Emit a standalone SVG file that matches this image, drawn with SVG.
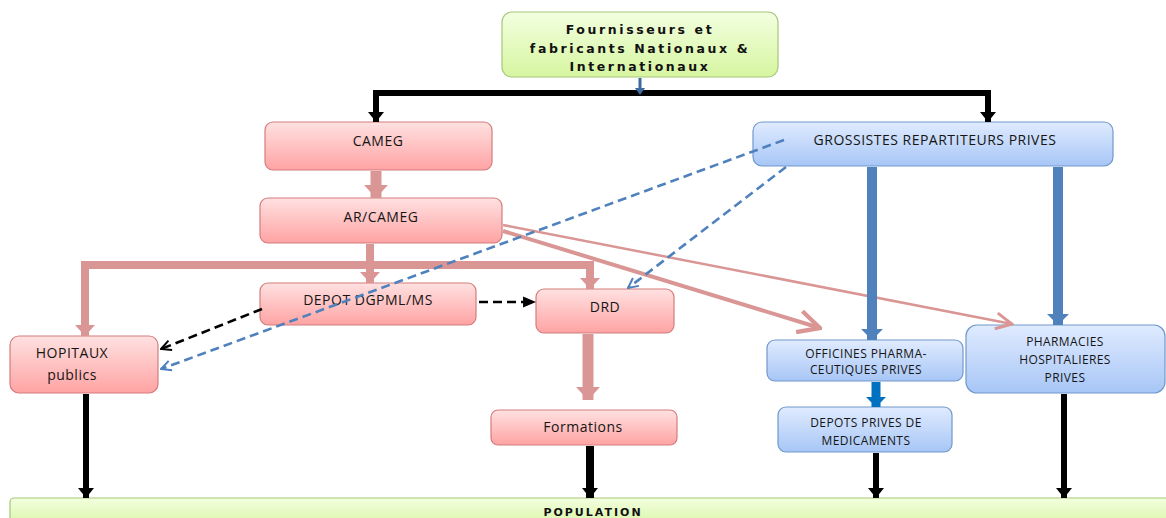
<svg xmlns="http://www.w3.org/2000/svg" width="1166" height="518" viewBox="0 0 1166 518">
<defs>
<linearGradient id="gPink" x1="0" y1="0" x2="0" y2="1"><stop offset="0" stop-color="#FFE1E1"/><stop offset="1" stop-color="#FFA3A3"/></linearGradient>
<linearGradient id="gBlue" x1="0" y1="0" x2="0" y2="1"><stop offset="0" stop-color="#E0EBFF"/><stop offset="1" stop-color="#A7C6F6"/></linearGradient>
<linearGradient id="gGreen" x1="0" y1="0" x2="0" y2="1"><stop offset="0" stop-color="#F3FFE0"/><stop offset="1" stop-color="#D6F5A0"/></linearGradient>
<marker id="aBlack" viewBox="0 0 10 16" refX="10" refY="8" markerWidth="10" markerHeight="16" orient="auto" markerUnits="userSpaceOnUse"><path d="M0,0 L10,8 L0,16 Z" fill="#000"/></marker>
<marker id="aPinkL" viewBox="0 0 13 24" refX="13" refY="12" markerWidth="13" markerHeight="24" orient="auto" markerUnits="userSpaceOnUse"><path d="M0,0 L13,12 L0,24 Z" fill="#D99694"/></marker>
<marker id="aPinkM" viewBox="0 0 11 20" refX="11" refY="10" markerWidth="11" markerHeight="20" orient="auto" markerUnits="userSpaceOnUse"><path d="M0,0 L11,10 L0,20 Z" fill="#D99694"/></marker>
<marker id="aBlueT" viewBox="0 0 11 22" refX="11" refY="11" markerWidth="11" markerHeight="22" orient="auto" markerUnits="userSpaceOnUse"><path d="M0,0 L11,11 L0,22 Z" fill="#4F81BD"/></marker>
<marker id="aBlue2" viewBox="0 0 10 20" refX="10" refY="10" markerWidth="10" markerHeight="20" orient="auto" markerUnits="userSpaceOnUse"><path d="M0,0 L10,10 L0,20 Z" fill="#0070C0"/></marker>
<marker id="openBlue" viewBox="0 0 12 12" refX="11" refY="6" markerWidth="12" markerHeight="12" orient="auto" markerUnits="userSpaceOnUse"><path d="M1,1 L11,6 L1,11" fill="none" stroke="#4F81BD" stroke-width="2"/></marker>
<marker id="openBlack" viewBox="0 0 12 12" refX="11" refY="6" markerWidth="12" markerHeight="12" orient="auto" markerUnits="userSpaceOnUse"><path d="M1,1 L11,6 L1,11" fill="none" stroke="#000" stroke-width="2"/></marker>
<marker id="fillBlack" viewBox="0 0 12 12" refX="11" refY="6" markerWidth="13" markerHeight="13" orient="auto" markerUnits="userSpaceOnUse"><path d="M0,1 L12,6 L0,11 Z" fill="#000"/></marker>
<marker id="openPinkBig" viewBox="0 0 24 24" refX="22" refY="12" markerWidth="26" markerHeight="26" orient="auto" markerUnits="userSpaceOnUse"><path d="M2,2 L22,12 L2,22" fill="none" stroke="#D99694" stroke-width="4"/></marker>
<marker id="openPinkSm" viewBox="0 0 20 20" refX="18" refY="10" markerWidth="20" markerHeight="20" orient="auto" markerUnits="userSpaceOnUse"><path d="M2,2 L18,10 L2,18" fill="none" stroke="#D99694" stroke-width="3"/></marker>
<style>
.pink{fill:url(#gPink);stroke:#D47C7C;stroke-width:1.2}
.blue{fill:url(#gBlue);stroke:#7098CC;stroke-width:1.2}
.green{fill:url(#gGreen);stroke:#A6C87A;stroke-width:1.2}
text{font-family:"Open Sans","Liberation Sans",sans-serif;fill:#151515;text-anchor:middle;dominant-baseline:central}
.lbl{font-size:14px;letter-spacing:0.5px}
.sm{font-size:12px;letter-spacing:0.4px}
.hd{font-family:"DejaVu Sans","Liberation Sans",sans-serif;font-weight:bold;font-size:12.5px;letter-spacing:2.6px;fill:#111}
.blk{stroke:#000;fill:none}
.pk{stroke:#D99694;fill:none}
.bl{stroke:#4F81BD;fill:none}
</style>
</defs>

<g id="fournisseurs">
  <rect class="green" x="502" y="12" width="276" height="65" rx="10"/>
  <text class="hd" x="640" y="29">Fournisseurs  et</text>
  <text class="hd" x="640" y="48">fabricants Nationaux &amp;</text>
  <text class="hd" x="640" y="66">Internationaux</text>
</g>
<g id="cameg">
  <rect class="pink" x="265" y="122" width="227" height="48" rx="8"/>
  <text class="lbl" x="378" y="140">CAMEG</text>
</g>
<g id="arcameg">
  <rect class="pink" x="260" y="198" width="242" height="45" rx="8"/>
  <text class="lbl" x="381" y="216">AR/CAMEG</text>
</g>
<g id="depot-dgpml">
  <rect class="pink" x="260" y="283" width="216" height="42" rx="8"/>
  <text class="lbl" x="368" y="299">DEPOT DGPML/MS</text>
</g>
<g id="drd">
  <rect class="pink" x="536" y="289" width="138" height="44" rx="8"/>
  <text class="lbl" x="605" y="306">DRD</text>
</g>
<g id="hopitaux">
  <rect class="pink" x="10" y="336" width="148" height="57" rx="9"/>
  <text class="lbl" x="72" y="352">HOPITAUX</text>
  <text class="lbl" x="72" y="374">publics</text>
</g>
<g id="formations">
  <rect class="pink" x="491" y="410" width="186" height="35" rx="7"/>
  <text class="lbl" x="583" y="426">Formations</text>
</g>
<g id="grossistes">
  <rect class="blue" x="753" y="122" width="360" height="44" rx="9"/>
  <text class="lbl" x="935" y="139">GROSSISTES REPARTITEURS PRIVES</text>
</g>
<g id="officines">
  <rect class="blue" x="767" y="340" width="196" height="41" rx="8"/>
  <text class="sm" x="866" y="353">OFFICINES PHARMA-</text>
  <text class="sm" x="866" y="369">CEUTIQUES PRIVES</text>
</g>
<g id="pharmacies">
  <rect class="blue" x="966" y="325" width="199" height="68" rx="11"/>
  <text class="sm" x="1065" y="341">PHARMACIES</text>
  <text class="sm" x="1065" y="359">HOSPITALIERES</text>
  <text class="sm" x="1065" y="377">PRIVES</text>
</g>
<g id="depots-prives">
  <rect class="blue" x="778" y="407" width="174" height="45" rx="8"/>
  <text class="sm" x="866" y="422">DEPOTS PRIVES DE</text>
  <text class="sm" x="866" y="440">MEDICAMENTS</text>
</g>
<g id="population">
  <rect class="green" x="10" y="498" width="1170" height="30" rx="4"/>
  <text class="hd" x="593" y="512" style="font-size:11px;letter-spacing:2px">POPULATION</text>
</g>

<g id="connectors">
  <!-- top black distribution -->
  <path class="blk" d="M373,93 H991" stroke-width="6"/>
  <path class="blk" d="M376,90 V122" stroke-width="6" marker-end="url(#aBlack)"/>
  <path class="blk" d="M988,90 V122" stroke-width="6" marker-end="url(#aBlack)"/>
  <path d="M640,78 V90" stroke="#3E6A9E" stroke-width="3"/>
  <path d="M635,88 L645,88 L640,95 Z" fill="#3E6A9E"/>
  <!-- CAMEG -> AR/CAMEG -->
  <path class="pk" d="M376,171 V198" stroke-width="11" marker-end="url(#aPinkL)"/>
  <!-- pink distribution -->
  <path class="pk" d="M81,265 H594" stroke-width="8"/>
  <path class="pk" d="M370,244 V283" stroke-width="8" marker-end="url(#aPinkM)"/>
  <path class="pk" d="M85,261 V336" stroke-width="8" marker-end="url(#aPinkM)"/>
  <path class="pk" d="M590,261 V289" stroke-width="8" marker-end="url(#aPinkM)"/>
  <!-- DRD -> Formations -->
  <path class="pk" d="M588,334 V400" stroke-width="11" marker-end="url(#aPinkL)"/>
  <!-- AR/CAMEG -> OFFICINES / PHARMACIES -->
  <path class="pk" d="M503,231 L820,328" stroke-width="4" marker-end="url(#openPinkBig)"/>
  <path class="pk" d="M503,225 L1012,324" stroke-width="2.5" marker-end="url(#openPinkSm)"/>
  <!-- Grossistes blue -->
  <path class="bl" d="M872,167 V340" stroke-width="10" marker-end="url(#aBlueT)"/>
  <path class="bl" d="M1058,167 V325" stroke-width="10" marker-end="url(#aBlueT)"/>
  <path d="M876,382 V407" stroke="#0070C0" stroke-width="9" fill="none" marker-end="url(#aBlue2)"/>
  <!-- dashed blue -->
  <path class="bl" d="M784,140 L161,369" stroke-width="2.6" stroke-dasharray="9,5" marker-end="url(#openBlue)"/>
  <path class="bl" d="M786,167 L628,288" stroke-width="2.6" stroke-dasharray="9,5" marker-end="url(#openBlue)"/>
  <!-- dashed black -->
  <path class="blk" d="M262,309 L161,349" stroke-width="2.6" stroke-dasharray="9,5" marker-end="url(#openBlack)"/>
  <path class="blk" d="M479,302 L535,302" stroke-width="2.6" stroke-dasharray="9,5" marker-end="url(#fillBlack)"/>
  <!-- black to population -->
  <path class="blk" d="M86,394 V498" stroke-width="6" marker-end="url(#aBlack)"/>
  <path class="blk" d="M590,446 V498" stroke-width="8" marker-end="url(#aBlack)"/>
  <path class="blk" d="M876,453 V498" stroke-width="6" marker-end="url(#aBlack)"/>
  <path class="blk" d="M1064,394 V498" stroke-width="6" marker-end="url(#aBlack)"/>
</g>
</svg>
